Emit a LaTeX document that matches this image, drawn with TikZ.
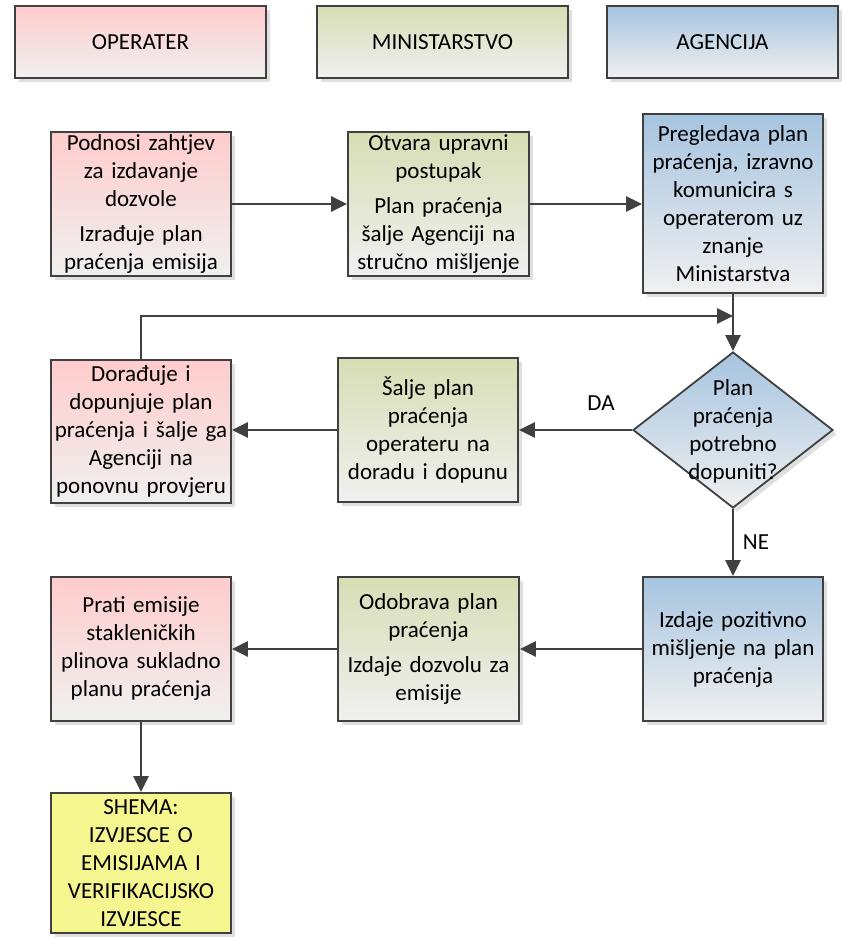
\documentclass[tikz,border=0pt]{standalone}
\usepackage{fontspec}
\setmainfont{Carlito}
\usetikzlibrary{shapes.geometric,arrows.meta,shadows}
\definecolor{pinkT}{RGB}{255,204,204}
\definecolor{greenT}{RGB}{214,222,180}
\definecolor{blueT}{RGB}{166,196,224}
\definecolor{grayB}{RGB}{240,240,240}
\definecolor{yellowF}{RGB}{246,246,145}
\definecolor{lineC}{RGB}{64,64,64}
\begin{document}
\begin{tikzpicture}[x=1pt,y=-1pt,
  txt/.style={font=\fontsize{23}{28}\selectfont},
  box/.style={txt, draw=lineC, line width=1.8pt, align=center, inner sep=2pt,
    text width=176pt, minimum width=180pt, minimum height=144pt,
    drop shadow={shadow xshift=4pt, shadow yshift=-4pt, fill=black!25, opacity=0.5}},
  pinkbox/.style={box, top color=pinkT, bottom color=grayB},
  greenbox/.style={box, top color=greenT, bottom color=grayB},
  bluebox/.style={box, top color=blueT, bottom color=grayB},
  yellowbox/.style={box, fill=yellowF},
  head/.style={box, text width=, minimum height=72pt},
  arr/.style={draw=lineC, line width=2.7pt, -{Triangle[length=16pt,width=15pt]}}
]
\useasboundingbox (0,0) rectangle (844,938);

% headers
\node[head, top color=pinkT, bottom color=grayB, minimum width=251pt] (hop) at (140.5,42) {OPERATER};
\node[head, top color=greenT, bottom color=grayB, minimum width=251pt] (hmin) at (442.5,42) {MINISTARSTVO};
\node[head, top color=blueT, bottom color=grayB, minimum width=231pt] (hag) at (722.5,42) {AGENCIJA};

% row 1
\node[pinkbox] (a1) at (141,204) {Podnosi zahtjev\\ za izdavanje\\ dozvole\\[7pt] Izrađuje plan\\ praćenja emisija};
\node[greenbox, minimum width=181pt] (m1) at (438.5,204) {Otvara upravni\\ postupak\\[7pt] Plan praćenja\\ šalje Agenciji na\\ stručno mišljenje};
\node[bluebox, minimum height=179pt] (g1) at (733,203.5) {Pregledava plan\\ praćenja, izravno\\ komunicira s\\ operaterom uz\\ znanje\\ Ministarstva};

% row 2
\node[pinkbox, minimum height=143pt] (d) at (141,431.5) {Dorađuje i\\ dopunjuje plan\\ praćenja i šalje ga\\ Agenciji na\\ ponovnu provjeru};
\node[greenbox] (m2) at (428,430) {Šalje plan\\ praćenja\\ operateru na\\ doradu i dopunu};
\node[diamond, draw=lineC, line width=1.8pt, inner sep=0pt, minimum width=200pt, minimum height=156pt,
  top color=blueT, bottom color=grayB,
  drop shadow={shadow xshift=4pt, shadow yshift=-4pt, fill=black!25, opacity=0.5},
  label={[txt, align=center, yshift=-1pt]center:{Plan\\ praćenja\\ potrebno\\ dopuniti?}}] (q) at (733,430) {};

% row 3
\node[pinkbox] (p3) at (141,649) {Prati emisije\\ stakleničkih\\ plinova sukladno\\ planu praćenja};
\node[greenbox, minimum width=181pt] (m3) at (428.5,649) {Odobrava plan\\ praćenja\\[7pt] Izdaje dozvolu za\\ emisije};
\node[bluebox] (g3) at (733,649) {Izdaje pozitivno\\ mišljenje na plan\\ praćenja};

% row 4
\node[yellowbox, minimum height=140pt] (y) at (141,863) {SHEMA:\\ IZVJESCE O\\ EMISIJAMA I\\ VERIFIKACIJSKO\\ IZVJESCE};

% connectors
\draw[arr] (a1.east) -- (m1.west);
\draw[arr] (m1.east) -- (m1.east -| g1.west);
\draw[arr] (g1.south) -- (q.north);
\coordinate (j) at (733,316);
\draw[arr] (d.north) |- (j);
\draw[arr] (q.west) -- (m2.east);
\draw[arr] (m2.west) -- (m2.west -| d.east);
\draw[arr] (q.south) -- (g3.north);
\draw[arr] (g3.west) -- (g3.west -| m3.east);
\draw[arr] (m3.west) -- (m3.west -| p3.east);
\draw[arr] (p3.south) -- (y.north);

\node[txt] (da) at (601,403) {DA};
\node[txt] (ne) at (756,542) {NE};
\end{tikzpicture}
\end{document}
